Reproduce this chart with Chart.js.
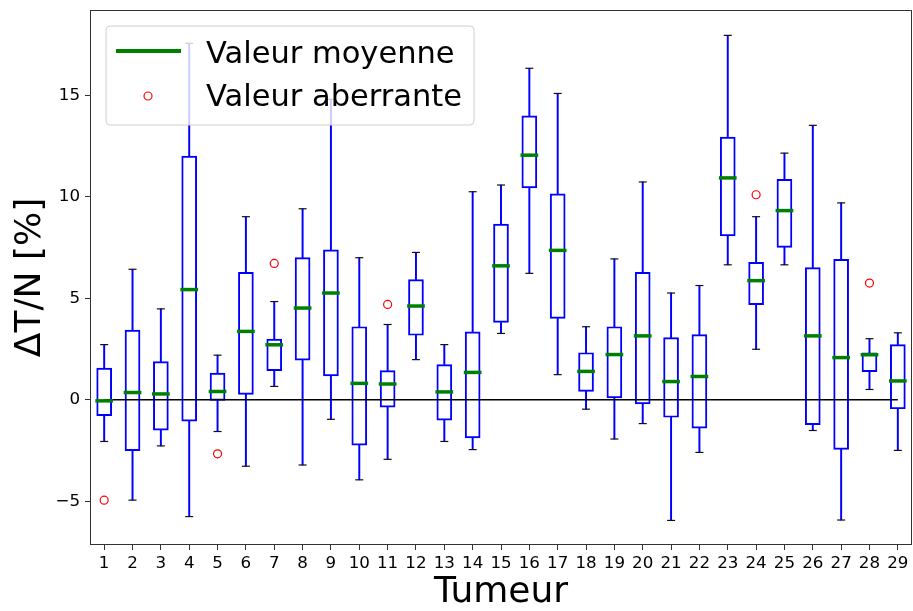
<!DOCTYPE html>
<html lang="fr">
  <head>
    <meta charset="UTF-8" />
    <title>ΔT/N par tumeur</title>
    <script src="https://cdn.jsdelivr.net/npm/chart.js"></script>
    <style>
      body {
        margin: 0;
        background: #fff;
      }
      #wrap {
        width: 913px;
        height: 611px;
      }
    </style>
  </head>
  <body>
    <div id="wrap">
      <canvas id="boxChart" width="913" height="611"></canvas>
    </div>

    <script>
      // Numéros de tumeur (axe x)
      const tumeurs = [1, 2, 3, 4, 5, 6, 7, 8, 9, 10, 11, 12, 13, 14, 15, 16, 17, 18, 19, 20, 21, 22, 23, 24, 25, 26, 27, 28, 29];

      // Statistiques de chaque boîte, en %
      const moyennes = [-0.05, 0.36, 0.29, 5.43, 0.41, 3.37, 2.71, 4.52, 5.26, 0.81, 0.78, 4.62, 0.39, 1.35, 6.6, 12.05, 7.36, 1.4, 2.23, 3.15, 0.9, 1.15, 10.93, 5.87, 9.32, 3.15, 2.08, 2.22, 0.93];
      const q1 = [-0.78, -2.5, -1.49, -1.05, -0.03, 0.27, 1.44, 1.95, 1.18, -2.23, -0.36, 3.18, -1.0, -1.88, 3.81, 10.44, 4.01, 0.42, 0.1, -0.2, -0.86, -1.4, 8.07, 4.69, 7.51, -1.22, -2.44, 1.39, -0.44];
      const q3 = [1.56, 3.43, 1.88, 12.0, 1.32, 6.28, 2.99, 7.0, 7.39, 3.6, 1.44, 5.92, 1.74, 3.35, 8.65, 13.99, 10.15, 2.32, 3.6, 6.28, 3.06, 3.21, 12.94, 6.77, 10.86, 6.51, 6.92, 2.32, 2.72];
      const minis = [-2.05, -4.94, -2.27, -5.75, -1.56, -3.27, 0.66, -3.21, -0.96, -3.94, -2.93, 1.98, -2.05, -2.45, 3.27, 6.23, 1.24, -0.46, -1.93, -1.17, -5.94, -2.59, 6.65, 2.49, 6.65, -1.51, -5.92, 0.51, -2.49];
      const maxis = [2.72, 6.43, 4.48, 17.56, 2.2, 9.02, 4.84, 9.41, 14.8, 7.0, 3.71, 7.26, 2.72, 10.25, 10.58, 16.33, 15.09, 3.6, 6.94, 10.73, 5.26, 5.63, 17.95, 9.02, 12.15, 13.52, 9.7, 3.01, 3.3];

      // Valeurs aberrantes
      const aberrantsTumeur = [1, 5, 7, 11, 24, 28];
      const aberrantsValeur = [-4.94, -2.66, 6.72, 4.7, 10.1, 5.75];

      const yTicks = [-5, 0, 5, 10, 15];

      const BLEU = "#0000ff";
      const VERT = "#008000";
      const police = '"DejaVu Sans", sans-serif';

      const pts = (vals) => tumeurs.map((t, i) => ({ x: t, y: vals[i] }));
      const plage = (a, b) => tumeurs.map((t, i) => ({ x: t, y: [a[i], b[i]] }));

      // cadre autour de la zone de tracé + légende
      const cadre = {
        id: "cadre",
        afterDatasetsDraw(chart) {
          const { ctx, chartArea: a } = chart;
          ctx.save();
          ctx.strokeStyle = "#333";
          ctx.lineWidth = 1;
          ctx.strokeRect(a.left + 0.5, a.top + 0.5, a.right - a.left - 1, a.bottom - a.top - 1);

          // boîte de légende
          const x0 = 106, y0 = 26, x1 = 474, y1 = 125, r = 4;
          ctx.beginPath();
          ctx.moveTo(x0 + r, y0);
          ctx.lineTo(x1 - r, y0);
          ctx.quadraticCurveTo(x1, y0, x1, y0 + r);
          ctx.lineTo(x1, y1 - r);
          ctx.quadraticCurveTo(x1, y1, x1 - r, y1);
          ctx.lineTo(x0 + r, y1);
          ctx.quadraticCurveTo(x0, y1, x0, y1 - r);
          ctx.lineTo(x0, y0 + r);
          ctx.quadraticCurveTo(x0, y0, x0 + r, y0);
          ctx.closePath();
          ctx.fillStyle = "rgba(255,255,255,0.8)";
          ctx.fill();
          ctx.strokeStyle = "#d0d0d0";
          ctx.stroke();

          ctx.strokeStyle = VERT;
          ctx.lineWidth = 4;
          ctx.beginPath();
          ctx.moveTo(116, 51);
          ctx.lineTo(181, 51);
          ctx.stroke();

          ctx.strokeStyle = "red";
          ctx.lineWidth = 1.2;
          ctx.beginPath();
          ctx.arc(148, 96, 4, 0, Math.PI * 2);
          ctx.stroke();

          ctx.fillStyle = "#000";
          ctx.font = "30.5px " + police;
          ctx.textBaseline = "alphabetic";
          ctx.fillText("Valeur moyenne", 206, 63);
          ctx.fillText("Valeur aberrante", 206, 106);
          ctx.restore();
        },
      };

      const ctx = document.getElementById("boxChart").getContext("2d");
      new Chart(ctx, {
        type: "bar",
        data: {
          datasets: [
            {
              // boîtes q1-q3
              label: "boites",
              data: plage(q1, q3),
              backgroundColor: "rgba(0,0,0,0)",
              borderColor: BLEU,
              borderWidth: 1.3,
              borderSkipped: false,
              barThickness: 15,
              grouped: false,
              order: 4,
            },
            {
              label: "moustaches hautes",
              data: plage(q3, maxis),
              backgroundColor: BLEU,
              borderWidth: 0,
              barThickness: 1.3,
              grouped: false,
              order: 5,
            },
            {
              label: "moustaches basses",
              data: plage(minis, q1),
              backgroundColor: BLEU,
              borderWidth: 0,
              barThickness: 1.3,
              grouped: false,
              order: 5,
            },
            {
              label: "zero",
              type: "line",
              data: [
                { x: tumeurs[0], y: 0 },
                { x: tumeurs[tumeurs.length - 1], y: 0 },
              ],
              borderColor: "#000",
              borderWidth: 1.5,
              pointRadius: 0,
              order: 3,
            },
            {
              label: "max",
              type: "line",
              data: pts(maxis),
              showLine: false,
              pointStyle: "line",
              pointRadius: 4,
              borderColor: "#111",
              borderWidth: 1.2,
              order: 2,
            },
            {
              label: "min",
              type: "line",
              data: pts(minis),
              showLine: false,
              pointStyle: "line",
              pointRadius: 4,
              borderColor: "#111",
              borderWidth: 1.2,
              order: 2,
            },
            {
              label: "Valeur moyenne",
              type: "line",
              data: pts(moyennes),
              showLine: false,
              pointStyle: "line",
              pointRadius: 8.85,
              borderColor: VERT,
              borderWidth: 3.5,
              order: 0,
            },
            {
              label: "Valeur aberrante",
              type: "line",
              data: aberrantsTumeur.map((t, i) => ({ x: t, y: aberrantsValeur[i] })),
              showLine: false,
              pointStyle: "circle",
              pointRadius: 4,
              backgroundColor: "rgba(0,0,0,0)",
              borderColor: "red",
              borderWidth: 1.2,
              order: 1,
            },
          ],
        },
        options: {
          responsive: false,
          animation: false,
          layout: { autoPadding: false, padding: { top: 10, right: 1, left: 0, bottom: 0 } },
          plugins: {
            legend: { display: false },
            tooltip: { enabled: false },
          },
          scales: {
            x: {
              type: "linear",
              min: 0.5,
              max: 29.5,
              offset: false,
              afterFit: (s) => {
                s.height = 66;
                s.paddingLeft = 0;
                s.paddingRight = 0;
              },
              afterBuildTicks: (s) => {
                s.ticks = tumeurs.map((t) => ({ value: t }));
              },
              border: { display: false },
              grid: {
                offset: false,
                drawOnChartArea: false,
                tickLength: 5,
                color: "#333",
              },
              ticks: {
                color: "#000",
                padding: 4,
                maxRotation: 0,
                autoSkip: false,
                font: { family: police, size: 16.7 },
              },
              title: {
                display: true,
                text: "Tumeur",
                color: "#000",
                font: { family: police, size: 36, lineHeight: 1 },
                padding: { top: 0, bottom: 0 },
              },
            },
            y: {
              type: "linear",
              min: -7.15,
              max: 19.2,
              afterFit: (s) => {
                s.width = 90;
                s.paddingTop = 0;
                s.paddingBottom = 0;
              },
              afterBuildTicks: (s) => {
                s.ticks = yTicks.map((v) => ({ value: v }));
              },
              border: { display: false },
              grid: {
                drawOnChartArea: false,
                tickLength: 5,
                color: "#333",
              },
              ticks: {
                color: "#000",
                padding: 5,
                font: { family: police, size: 16.7 },
                callback: (v) => (v < 0 ? "\u2212" + Math.abs(v) : v),
              },
              title: {
                display: true,
                text: "ΔT/N [%]",
                color: "#000",
                font: { family: police, size: 36, lineHeight: 1 },
                padding: { top: 13, bottom: 0 },
              },
            },
          },
        },
        plugins: [cadre],
      });
    </script>
  </body>
</html>
